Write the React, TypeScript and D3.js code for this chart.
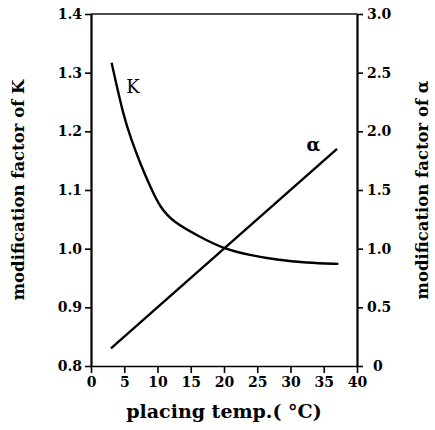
import React, { useEffect, useRef } from "react";
import * as d3 from "d3";

const kTemps = [3.1, 4.9, 6.1, 7.4, 8.9, 10.4, 12.4, 16.4, 19.9, 23.9, 27.9, 32.4, 37.2];
const kValues = [1.317, 1.225, 1.185, 1.145, 1.106, 1.07, 1.045, 1.02, 1.0, 0.989, 0.981, 0.976, 0.974];
const alphaTemps = [3, 37];
const alphaValues = [0.15, 1.85];
const xTicks = [0, 5, 10, 15, 20, 25, 30, 35, 40];
const kTicks = [0.8, 0.9, 1.0, 1.1, 1.2, 1.3, 1.4];
const alphaTicks = [0, 0.5, 1.0, 1.5, 2.0, 2.5, 3.0];

const font = "'DejaVu Serif', serif";

const App: React.FC = () => {
  const svgRef = useRef<SVGSVGElement>(null);
  const width = 435;
  const height = 430;
  const left = 91;
  const right = 357;
  const top = 14;
  const bottom = 366;

  useEffect(() => {
    if (!svgRef.current) return;
    const svg = d3.select(svgRef.current);
    svg.selectAll("*").remove();

    const x = d3.scaleLinear().domain([0, 40]).range([left, right]);
    const yK = d3.scaleLinear().domain([0.8, 1.4]).range([bottom, top]);
    const yA = d3.scaleLinear().domain([0, 3]).range([bottom, top]);

    // thin top edge of the frame
    svg
      .append("line")
      .attr("x1", left)
      .attr("x2", right)
      .attr("y1", top)
      .attr("y2", top)
      .attr("stroke", "#111")
      .attr("stroke-width", 1.5);

    const styleAxis = (g: d3.Selection<SVGGElement, unknown, null, undefined>, w: number) => {
      g.select(".domain").attr("stroke", "#000").attr("stroke-width", w);
      g.selectAll(".tick line").attr("stroke", "#000").attr("stroke-width", 1.6);
      g.selectAll(".tick text")
        .attr("fill", "#000")
        .style("font-family", font)
        .style("font-weight", "bold")
        .style("font-size", "14px");
    };

    const gx = svg
      .append("g")
      .attr("transform", `translate(0,${bottom})`)
      .call(
        d3.axisBottom(x).tickValues(xTicks).tickSize(7).tickSizeOuter(0).tickPadding(4).tickFormat(d3.format("d"))
      );
    styleAxis(gx, 1.5);

    const gl = svg
      .append("g")
      .attr("transform", `translate(${left},0)`)
      .call(
        d3.axisLeft(yK).tickValues(kTicks).tickSize(6).tickSizeOuter(0).tickPadding(3).tickFormat(d3.format(".1f"))
      );
    styleAxis(gl, 2.2);

    const gr = svg
      .append("g")
      .attr("transform", `translate(${right},0)`)
      .call(
        d3
          .axisRight(yA)
          .tickValues(alphaTicks)
          .tickSize(6)
          .tickSizeOuter(0)
          .tickPadding(4)
          .tickFormat((d) => (+d === 0 ? "0" : d3.format(".1f")(+d)))
      );
    styleAxis(gr, 2.2);
    gr.selectAll(".tick text").filter((d) => +d === 0).attr("dx", 6);

    const kData = kTemps.map((t, i) => [t, kValues[i]] as [number, number]);
    const aData = alphaTemps.map((t, i) => [t, alphaValues[i]] as [number, number]);

    svg
      .append("path")
      .datum(kData)
      .attr("fill", "none")
      .attr("stroke", "#000")
      .attr("stroke-width", 2.4)
      .attr(
        "d",
        d3
          .line<[number, number]>()
          .x((d) => x(d[0]))
          .y((d) => yK(d[1]))
          .curve(d3.curveBasis)
      );

    svg
      .append("path")
      .datum(aData)
      .attr("fill", "none")
      .attr("stroke", "#000")
      .attr("stroke-width", 2.4)
      .attr(
        "d",
        d3
          .line<[number, number]>()
          .x((d) => x(d[0]))
          .y((d) => yA(d[1]))
      );

    svg
      .append("text")
      .attr("x", x(5.3))
      .attr("y", yK(1.265))
      .style("font-family", font)
      .style("font-size", "18px")
      .text("K");

    svg
      .append("text")
      .attr("x", x(32.4))
      .attr("y", yA(1.83))
      .style("font-family", font)
      .style("font-weight", "bold")
      .style("font-size", "18px")
      .text("α");

    svg
      .append("text")
      .attr("x", 224)
      .attr("y", 418)
      .attr("text-anchor", "middle")
      .style("font-family", font)
      .style("font-weight", "bold")
      .style("font-size", "19px")
      .text("placing  temp.( °C)");

    svg
      .append("text")
      .attr("transform", `translate(24,${(top + bottom) / 2}) rotate(-90)`)
      .attr("text-anchor", "middle")
      .style("font-family", font)
      .style("font-weight", "bold")
      .style("font-size", "16.5px")
      .text("modification  factor  of  K");

    svg
      .append("text")
      .attr("transform", `translate(428,${(top + bottom) / 2}) rotate(-90)`)
      .attr("text-anchor", "middle")
      .style("font-family", font)
      .style("font-weight", "bold")
      .style("font-size", "16.5px")
      .text("modification  factor  of  α");
  }, []);

  return (
    <svg
      ref={svgRef}
      width={width}
      height={height}
      style={{ position: "absolute", left: 0, top: 0, background: "#fff" }}
    />
  );
};

export default App;
